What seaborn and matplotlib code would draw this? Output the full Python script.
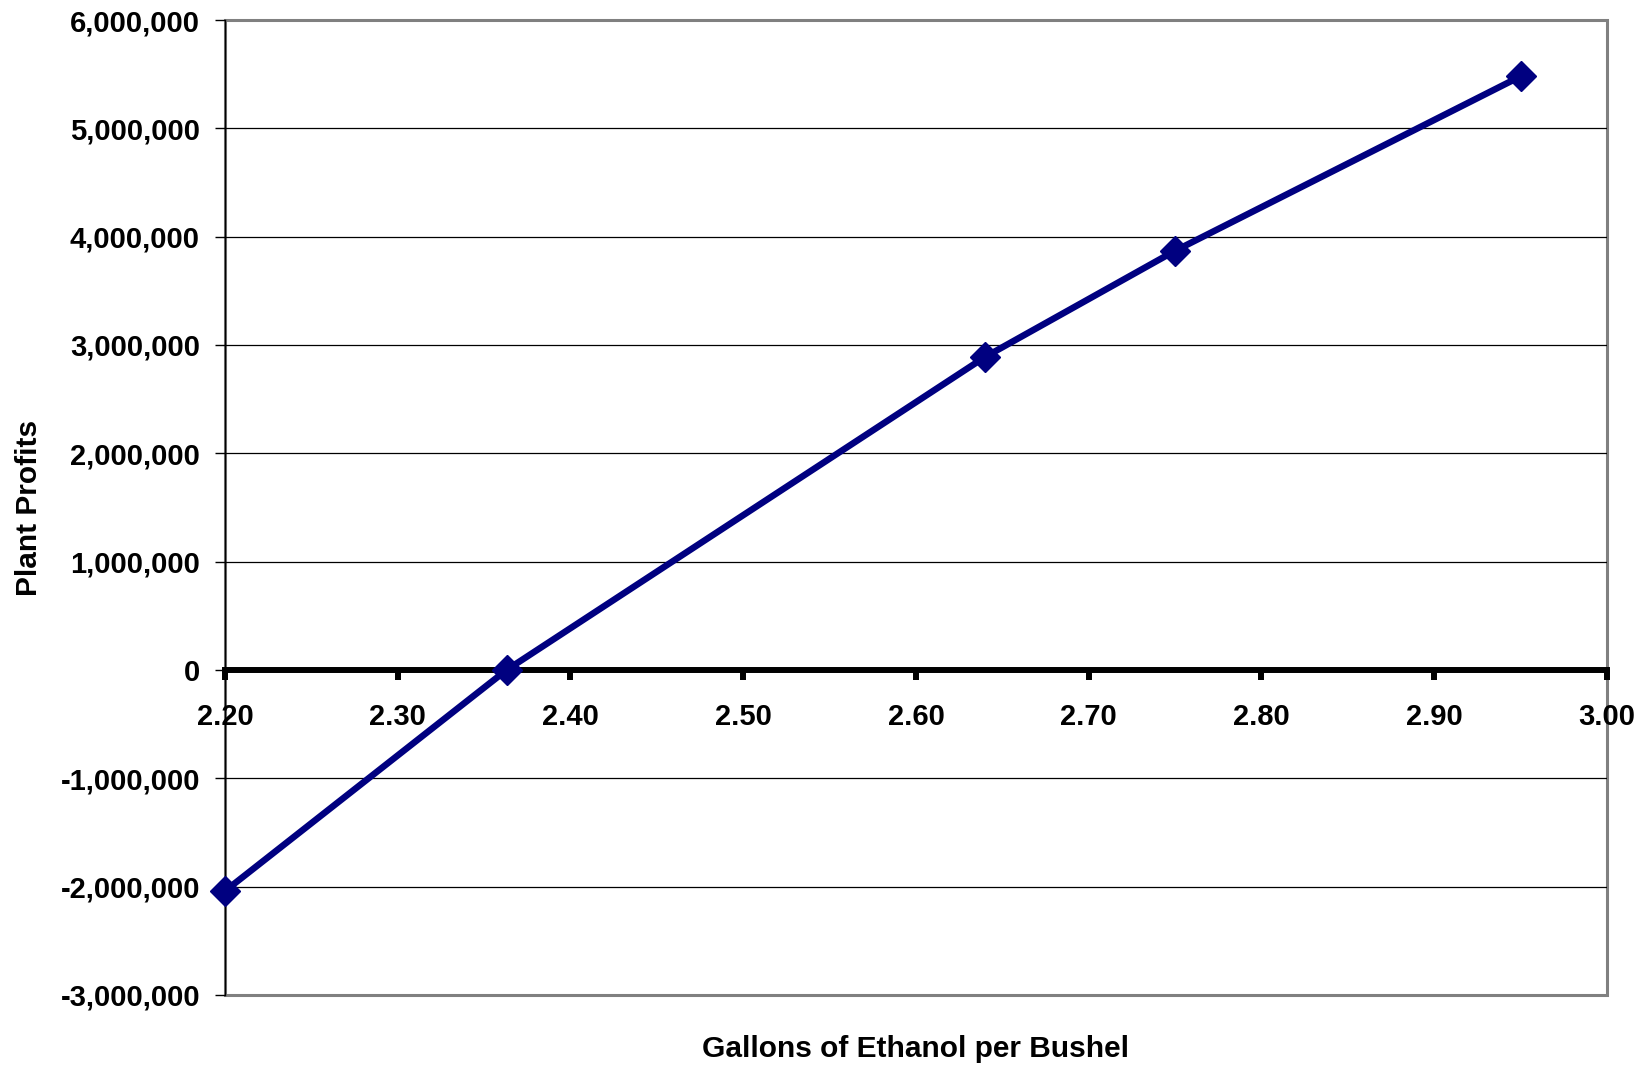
import matplotlib
matplotlib.use("Agg")
import matplotlib.pyplot as plt
import seaborn as sns
import pandas as pd
from matplotlib.ticker import FuncFormatter, FormatStrFormatter

# ---- data ----
gallons = [2.20, 2.363, 2.64, 2.75, 2.95]
profits = [-2040000, 0, 2890000, 3870000, 5480000]
x_ticks = [2.20, 2.30, 2.40, 2.50, 2.60, 2.70, 2.80, 2.90, 3.00]
y_ticks = [-3000000, -2000000, -1000000, 0, 1000000, 2000000, 3000000,
           4000000, 5000000, 6000000]
x_title = "Gallons of Ethanol per Bushel"
y_title = "Plant Profits"

sns.set_style("white")
plt.rcParams["font.family"] = ["Liberation Sans", "DejaVu Sans"]
plt.rcParams["font.weight"] = "bold"
for k in ["text.color", "axes.labelcolor", "xtick.color", "ytick.color"]:
    plt.rcParams[k] = "black"

FS = 21
fig = plt.figure(figsize=(16.48, 10.65), dpi=100)
ax = fig.add_axes([225 / 1648, 70 / 1065, 1382 / 1648, 975 / 1065])

df = pd.DataFrame({"x": gallons, "y": profits})
sns.lineplot(data=df, x="x", y="y", ax=ax, color="#000080", linewidth=4.7,
             marker="D", markersize=15, markeredgecolor="#000080",
             markeredgewidth=1, zorder=5, clip_on=False)

ax.set_xlim(x_ticks[0], x_ticks[-1])
ax.set_ylim(y_ticks[0], y_ticks[-1])
ax.set_xticks(x_ticks)
ax.set_yticks(y_ticks)
ax.xaxis.set_major_formatter(FormatStrFormatter("%.2f"))
ax.yaxis.set_major_formatter(FuncFormatter(lambda v, p: f"{int(round(v)):,}"))

# grid
ax.set_axisbelow(True)
ax.yaxis.grid(True, color="#000000", linewidth=0.9)
ax.xaxis.grid(False)
gls = ax.get_ygridlines()
gls[0].set_visible(False)
gls[-1].set_visible(False)

# frame via axes patch
ax.patch.set_edgecolor("#808080")
ax.patch.set_linewidth(2.2)

for s in ["top", "right"]:
    ax.spines[s].set_visible(False)
ax.spines["left"].set_color("black")
ax.spines["left"].set_linewidth(1.0)
ax.spines["bottom"].set_position(("data", 0))
ax.spines["bottom"].set_color("black")
ax.spines["bottom"].set_linewidth(4.3)
ax.spines["bottom"].set_zorder(4)

ax.tick_params(axis="x", direction="out", length=7, width=4.3, color="black",
               pad=17, labelsize=FS, bottom=True)
ax.tick_params(axis="y", direction="out", length=7, width=1.0, color="black",
               pad=11, labelsize=FS, left=True)
for lab in ax.get_xticklabels() + ax.get_yticklabels():
    lab.set_fontweight("bold")

ax.set_xlabel(x_title, fontsize=21.5, fontweight="bold")
ax.set_ylabel(y_title, fontsize=21.5, fontweight="bold")
ax.xaxis.set_label_coords(0.5, -0.055)
ax.xaxis.label.set_va("center")
ax.yaxis.set_label_coords(-0.142, 0.5)
ax.yaxis.label.set_va("center")

fig.savefig("out.png", dpi=100, facecolor="white")
